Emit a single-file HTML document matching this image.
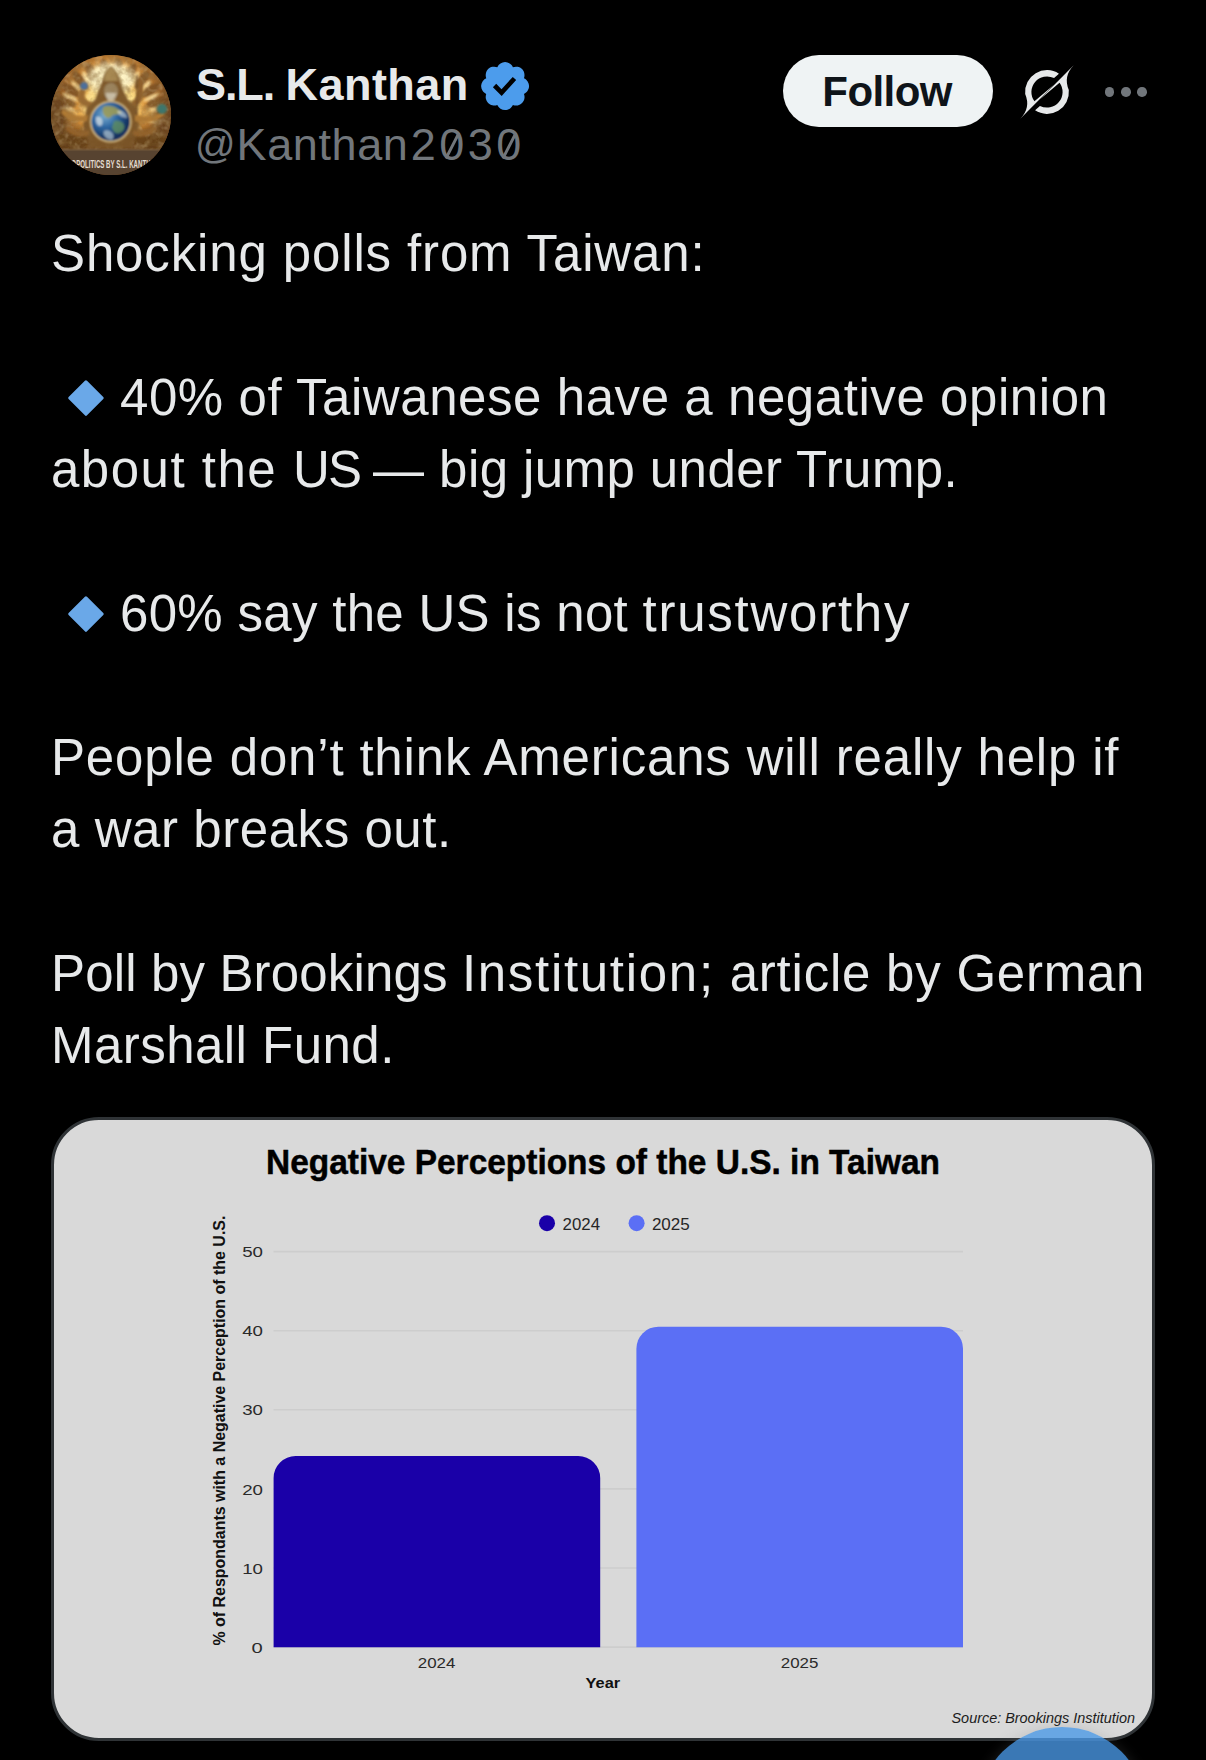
<!DOCTYPE html>
<html lang="en">
<head>
<meta charset="utf-8">
<title>Post</title>
<style>
html,body{margin:0;padding:0;background:#000;}
html{width:1206px;height:1760px;overflow:hidden;}
body{width:1206px;height:1760px;position:relative;overflow:hidden;font-family:"Liberation Sans",sans-serif;}
.abs{position:absolute;}
.t{position:absolute;margin-top:0.9px;left:51px;white-space:nowrap;color:#e7e9ea;font-size:51px;line-height:72px;height:72px;transform-origin:0 50%;}
#name{position:absolute;left:196px;top:58px;font-size:45px;line-height:54px;font-weight:bold;color:#e7e9ea;white-space:nowrap;transform-origin:0 50%;}
#handle{position:absolute;left:195px;top:117.6px;font-size:45px;line-height:54px;color:#71767b;white-space:nowrap;transform-origin:0 50%;}
#handle .at{font-size:40px;position:relative;top:-1.5px;margin-right:1px;}
#handle .k{letter-spacing:0.6px;}
#handle .d{letter-spacing:3.5px;margin-left:2.2px;}
#handle .z{position:relative;display:inline-block;}
#handle .z::after{content:"";position:absolute;left:11.5px;top:13px;width:2.6px;height:29px;background:#71767b;transform:rotate(27deg);border-radius:1px;}
#follow{position:absolute;left:782.7px;top:55.1px;width:210.3px;height:71.5px;border-radius:36px;background:#eff3f4;}
#follow span{position:absolute;left:39.6px;top:9.8px;font-size:42px;letter-spacing:-0.55px;line-height:54px;font-weight:bold;color:#0f1419;white-space:nowrap;transform-origin:0 50%;}
.dot{position:absolute;width:9.6px;height:9.6px;border-radius:50%;background:#71767b;top:87.2px;}
.dia{position:absolute;width:25.9px;height:25.9px;background:#6aa8e8;border-radius:1.5px;transform:rotate(45deg);}
#card{position:absolute;left:51px;top:1117px;width:1097.7px;height:618px;border:3px solid #2f3336;border-radius:48px;background:#d9d9d9;overflow:hidden;}
#fab{position:absolute;left:978px;top:1727px;width:168px;height:168px;border-radius:50%;background:rgba(73,152,230,0.79);box-shadow:0 0 14px rgba(120,120,120,0.25);}
</style>
</head>
<body>

<!-- header -->
<div id="avatar" class="abs" style="left:51px;top:55px;width:120px;height:120px;"><svg width="120" height="120" viewBox="0 0 120 120">
<defs>
<clipPath id="avc"><circle cx="60" cy="60" r="60"/></clipPath>
<radialGradient id="avbg" cx="60" cy="44" r="60" gradientUnits="userSpaceOnUse">
<stop offset="0" stop-color="#fff3c0"/><stop offset="0.3" stop-color="#f8cc66"/><stop offset="0.58" stop-color="#d8923c"/><stop offset="0.82" stop-color="#9a6229"/><stop offset="1" stop-color="#65401d"/>
</radialGradient>
<radialGradient id="avgl" cx="54" cy="60" r="24" gradientUnits="userSpaceOnUse">
<stop offset="0" stop-color="#7fb0d0"/><stop offset="0.5" stop-color="#2f68a2"/><stop offset="1" stop-color="#12315e"/>
</radialGradient>
<filter id="b1" x="-30%" y="-30%" width="160%" height="160%"><feGaussianBlur stdDeviation="1.2"/></filter>
<filter id="b2" x="-30%" y="-30%" width="160%" height="160%"><feGaussianBlur stdDeviation="0.8"/></filter>
<filter id="b3" x="-40%" y="-40%" width="180%" height="180%"><feGaussianBlur stdDeviation="3"/></filter>
<filter id="nz" x="0" y="0" width="100%" height="100%"><feTurbulence type="fractalNoise" baseFrequency="0.11" numOctaves="3" seed="7"/><feColorMatrix type="matrix" values="0 0 0 0 0.28  0 0 0 0 0.16  0 0 0 0 0.05  1.9 0 0 0 -0.75"/></filter>
<filter id="nz2" x="0" y="0" width="100%" height="100%"><feTurbulence type="fractalNoise" baseFrequency="0.16" numOctaves="2" seed="23"/><feColorMatrix type="matrix" values="0 0 0 0 1  0 0 0 0 0.9  0 0 0 0 0.6  0 1.8 0 0 -0.85"/></filter>
</defs>
<g clip-path="url(#avc)">
<rect width="120" height="120" fill="#5c3a1b"/>
<rect width="120" height="120" fill="url(#avbg)"/>
<g filter="url(#b1)">
<ellipse cx="12.0" cy="60.3" rx="4.4" ry="11" transform="rotate(-88 12.0 60.3)" fill="#7d5226" opacity="0.9"/>
<ellipse cx="15.7" cy="54.2" rx="1.7" ry="9" transform="rotate(-80 15.7 54.2)" fill="#ffe9a8" opacity="0.8"/>
<ellipse cx="14.3" cy="47.2" rx="4.4" ry="11" transform="rotate(-72 14.3 47.2)" fill="#7d5226" opacity="0.9"/>
<ellipse cx="19.6" cy="42.3" rx="1.7" ry="9" transform="rotate(-64 19.6 42.3)" fill="#ffe9a8" opacity="0.8"/>
<ellipse cx="20.2" cy="35.2" rx="4.4" ry="11" transform="rotate(-56 20.2 35.2)" fill="#7d5226" opacity="0.9"/>
<ellipse cx="26.6" cy="31.9" rx="1.7" ry="9" transform="rotate(-48 26.6 31.9)" fill="#ffe9a8" opacity="0.8"/>
<ellipse cx="29.1" cy="25.2" rx="4.4" ry="11" transform="rotate(-40 29.1 25.2)" fill="#7d5226" opacity="0.9"/>
<ellipse cx="36.2" cy="23.8" rx="1.7" ry="9" transform="rotate(-32 36.2 23.8)" fill="#ffe9a8" opacity="0.8"/>
<ellipse cx="40.5" cy="18.1" rx="4.4" ry="11" transform="rotate(-24 40.5 18.1)" fill="#7d5226" opacity="0.9"/>
<ellipse cx="47.6" cy="18.7" rx="1.7" ry="9" transform="rotate(-16 47.6 18.7)" fill="#ffe9a8" opacity="0.8"/>
<ellipse cx="53.3" cy="14.5" rx="4.4" ry="11" transform="rotate(-8 53.3 14.5)" fill="#7d5226" opacity="0.9"/>
<ellipse cx="60.0" cy="17.0" rx="1.7" ry="9" transform="rotate(0 60.0 17.0)" fill="#ffe9a8" opacity="0.8"/>
<ellipse cx="66.7" cy="14.5" rx="4.4" ry="11" transform="rotate(8 66.7 14.5)" fill="#7d5226" opacity="0.9"/>
<ellipse cx="72.4" cy="18.7" rx="1.7" ry="9" transform="rotate(16 72.4 18.7)" fill="#ffe9a8" opacity="0.8"/>
<ellipse cx="79.5" cy="18.1" rx="4.4" ry="11" transform="rotate(24 79.5 18.1)" fill="#7d5226" opacity="0.9"/>
<ellipse cx="83.8" cy="23.8" rx="1.7" ry="9" transform="rotate(32 83.8 23.8)" fill="#ffe9a8" opacity="0.8"/>
<ellipse cx="90.9" cy="25.2" rx="4.4" ry="11" transform="rotate(40 90.9 25.2)" fill="#7d5226" opacity="0.9"/>
<ellipse cx="93.4" cy="31.9" rx="1.7" ry="9" transform="rotate(48 93.4 31.9)" fill="#ffe9a8" opacity="0.8"/>
<ellipse cx="99.8" cy="35.2" rx="4.4" ry="11" transform="rotate(56 99.8 35.2)" fill="#7d5226" opacity="0.9"/>
<ellipse cx="100.4" cy="42.3" rx="1.7" ry="9" transform="rotate(64 100.4 42.3)" fill="#ffe9a8" opacity="0.8"/>
<ellipse cx="105.7" cy="47.2" rx="4.4" ry="11" transform="rotate(72 105.7 47.2)" fill="#7d5226" opacity="0.9"/>
<ellipse cx="104.3" cy="54.2" rx="1.7" ry="9" transform="rotate(80 104.3 54.2)" fill="#ffe9a8" opacity="0.8"/>
<ellipse cx="108.0" cy="60.3" rx="4.4" ry="11" transform="rotate(88 108.0 60.3)" fill="#7d5226" opacity="0.9"/>
<ellipse cx="104.8" cy="66.7" rx="1.7" ry="9" transform="rotate(96 104.8 66.7)" fill="#ffe9a8" opacity="0.8"/>
</g>
<g filter="url(#b3)">
<ellipse cx="60" cy="24" rx="24" ry="16" fill="#fff6c8" opacity="0.95"/>
<ellipse cx="41" cy="50" rx="8" ry="13" fill="#ffe594" opacity="0.9"/>
<ellipse cx="80" cy="50" rx="8" ry="13" fill="#ffe594" opacity="0.9"/>
<ellipse cx="26" cy="60" rx="9" ry="5" fill="#f7c262" opacity="0.7"/>
<ellipse cx="95" cy="60" rx="9" ry="5" fill="#f7c262" opacity="0.7"/>
<ellipse cx="7" cy="66" rx="9" ry="26" fill="#68421c" opacity="0.9"/>
<ellipse cx="114" cy="68" rx="9" ry="24" fill="#6b441d" opacity="0.9"/>
<ellipse cx="28" cy="86" rx="22" ry="10" fill="#65401a" opacity="0.9"/>
<ellipse cx="94" cy="86" rx="22" ry="10" fill="#65401a" opacity="0.9"/>
<ellipse cx="60" cy="92" rx="26" ry="6" fill="#6a4520" opacity="0.9"/>
</g>
<rect width="120" height="96" filter="url(#nz)" opacity="0.55"/>
<rect width="120" height="96" filter="url(#nz2)" opacity="0.35"/>
<g filter="url(#b1)">
<path d="M60 11 Q67 16 69 27 L73 37 L77 45 L85 52 L88 70 L82 93 L38 93 L32 70 L36 52 L44 45 L47 37 L51 27 Q53 16 60 11 Z" fill="#7a5528" opacity="0.97"/>
<path d="M37 52 C26 50 24 42 30 33 L35 36 C32 42 34 46 42 47 Z" fill="#9a6a30"/>
<path d="M84 52 C92 48 94 40 91 24 L87 25 C88 38 86 44 80 47 Z" fill="#8e5f2a"/>
<rect x="85.2" y="20" width="1.6" height="42" fill="#6e4a22"/>
<path d="M36 66 C24 68 16 64 10 58 L12 54 C20 60 28 62 37 60 Z" fill="#b07a34"/>
<path d="M84 66 C96 70 106 66 114 60 L112 56 C104 62 94 62 84 60 Z" fill="#b07a34"/>
<path d="M38 80 C28 84 20 80 14 74 L17 71 C24 76 30 78 38 75 Z" fill="#93622a"/>
<path d="M82 80 C92 84 100 80 106 74 L103 71 C96 76 90 78 82 75 Z" fill="#93622a"/>
<ellipse cx="60" cy="36" rx="7" ry="8" fill="#9c8560"/>
<path d="M54 38 Q60 58 66 38 Z" fill="#cfc6b0" opacity="0.85"/>
<path d="M60 12 Q66 17 67 26 L53 26 Q54 17 60 12 Z" fill="#a88a52"/>
</g>
<rect width="120" height="96" filter="url(#nz)" opacity="0.3"/>
<g filter="url(#b2)">
<circle cx="33" cy="31" r="3.8" fill="#4e6f9c"/>
<circle cx="111" cy="54" r="5" fill="#3d766c"/>
<circle cx="59.7" cy="66.6" r="21" fill="#d9bf86"/>
<circle cx="59.7" cy="66.6" r="19.4" fill="url(#avgl)"/>
<path d="M52 52 C58 49 67 52 71 58 C66 61 63 58 60 62 C56 65 50 60 52 52 Z" fill="#9a9a58" opacity="0.9"/>
<path d="M63 66 C68 64 75 68 73 74 C69 81 62 79 61 72 Z" fill="#5f8f62" opacity="0.8"/>
<path d="M45 62 C49 60 53 64 51 70 C47 73 44 68 45 62 Z" fill="#dfe7ea" opacity="0.7"/>
<path d="M53 76 C58 73 66 80 61 85 C56 85 51 80 53 76 Z" fill="#cfdde2" opacity="0.6"/>
<path d="M66 56 C70 54 76 58 76 63 C72 62 68 62 66 56 Z" fill="#e6ecee" opacity="0.55"/>
</g>
<rect x="0" y="94.6" width="120" height="26" fill="#574330"/>
<rect x="0" y="93.4" width="120" height="2.4" fill="#7a5c3c" opacity="0.55"/>
<text x="11.5" y="113" font-family="Liberation Sans, sans-serif" font-weight="bold" font-size="11.5" fill="#e4ded2" textLength="97" lengthAdjust="spacingAndGlyphs">GEOPOLITICS BY S.L. KANTHAN</text>
</g>
</svg></div>
<div id="name"><span style="letter-spacing:-1.1px">S.L. </span><span style="letter-spacing:0.45px">Kanthan</span></div>
<div id="badge" class="abs" style="left:476.9px;top:57.9px;width:56.2px;height:56.2px;"><svg width="56.2" height="56.2" viewBox="0 0 22 22"><path fill="#4c9cec" d="M20.396 11c-.018-.646-.215-1.275-.57-1.816-.354-.54-.852-.972-1.438-1.246.223-.607.27-1.264.14-1.897-.131-.634-.437-1.218-.882-1.687-.47-.445-1.053-.75-1.687-.882-.633-.13-1.29-.083-1.897.14-.273-.587-.704-1.086-1.245-1.44S11.647 1.62 11 1.604c-.646.017-1.273.213-1.813.568s-.969.854-1.24 1.44c-.608-.223-1.267-.272-1.902-.14-.635.13-1.22.436-1.69.882-.445.47-.749 1.055-.878 1.688-.13.633-.08 1.29.144 1.896-.587.274-1.087.705-1.443 1.245-.356.54-.555 1.17-.574 1.817.02.647.218 1.276.574 1.817.356.54.856.972 1.443 1.245-.224.606-.274 1.263-.144 1.896.13.634.433 1.218.877 1.688.47.443 1.054.747 1.687.878.633.132 1.29.084 1.897-.136.274.586.705 1.084 1.246 1.439.54.354 1.17.551 1.816.569.647-.016 1.276-.213 1.817-.567s.972-.854 1.245-1.44c.604.239 1.266.296 1.903.164.636-.132 1.22-.447 1.68-.907.46-.46.776-1.044.908-1.681s.075-1.299-.165-1.903c.586-.274 1.084-.705 1.439-1.246.354-.54.551-1.17.569-1.816zM9.662 14.85l-3.429-3.428 1.293-1.302 2.072 2.072 4.4-4.794 1.347 1.246z"/></svg></div>
<div id="handle"><span class="at">@</span><span class="k">Kanthan</span><span class="d">2<span class="z">0</span>3<span class="z">0</span></span></div>
<div id="follow"><span>Follow</span></div>
<div id="grok" class="abs" style="left:1007.1px;top:52.2px;width:80px;height:80px;"><svg width="80" height="80" viewBox="-40 -40 80 80">
<path d="M26.7,-26.7 L-7.3,7.5 L12.54,-9.28 A15.6,15.6 0 0 1 -7.08,13.9 L-11.93,18.37 A21.9,21.9 0 0 0 21.82,-1.91 Q16,-15.6 26.7,-26.7 Z" fill="#e7e9ea"/>
<path d="M26.7,-26.7 L-7.3,7.5 L12.54,-9.28 A15.6,15.6 0 0 1 -7.08,13.9 L-11.93,18.37 A21.9,21.9 0 0 0 21.82,-1.91 Q16,-15.6 26.7,-26.7 Z" fill="#e7e9ea" transform="rotate(180)"/>
</svg></div>
<div class="dot" style="left:1104.7px"></div>
<div class="dot" style="left:1121px"></div>
<div class="dot" style="left:1137.4px"></div>

<!-- body text -->
<div class="t" id="l1" style="top:217px;letter-spacing:0.865px">Shocking polls from Taiwan:</div>
<div class="dia" style="left:72.6px;top:385.4px"></div>
<div class="t" id="l3" style="top:361px;letter-spacing:0.564px;left:120px">40% of Taiwanese have a negative opinion</div>
<div class="t" id="l4" style="top:433px;letter-spacing:0.543px"><span style="letter-spacing:1.5px">about the </span><span style="letter-spacing:-1.6px">US </span><span style="letter-spacing:0.42px">— big jump under Trump.</span></div>
<div class="dia" style="left:72.6px;top:601.4px"></div>
<div class="t" id="l6" style="top:577px;letter-spacing:0.3px;left:120px">60% say the US is not <span style="letter-spacing:1.75px">trustworthy</span></div>
<div class="t" id="l8" style="top:721px;letter-spacing:0.819px">People don’t think Americans will really help if</div>
<div class="t" id="l9" style="top:793px;letter-spacing:0.562px">a war breaks out.</div>
<div class="t" id="l11" style="top:937px;letter-spacing:0.766px"><span style="letter-spacing:0.15px">Poll by Brookings </span><span style="letter-spacing:1.7px">Institution;</span> article by German</div>
<div class="t" id="l12" style="top:1009px;letter-spacing:0.462px">Marshall Fund.</div>

<!-- chart card -->
<div id="card"><svg class="abs" style="left:-2px;top:-2px" width="1102" height="623" viewBox="52 1118 1102 623" font-family="Liberation Sans, sans-serif">
<g stroke="#cdcdcd" stroke-width="1.6">
<line x1="273.5" y1="1251.6" x2="963" y2="1251.6"/>
<line x1="273.5" y1="1330.7" x2="963" y2="1330.7"/>
<line x1="273.5" y1="1409.8" x2="963" y2="1409.8"/>
<line x1="273.5" y1="1488.9" x2="963" y2="1488.9"/>
<line x1="273.5" y1="1568" x2="963" y2="1568"/>
<line x1="273.5" y1="1647.1" x2="963" y2="1647.1"/>
</g>
<text x="266" y="1174.3" font-size="35" font-weight="bold" fill="#000" stroke="#000" stroke-width="0.5" textLength="674" lengthAdjust="spacingAndGlyphs">Negative Perceptions of the U.S. in Taiwan</text>
<circle cx="547" cy="1223.2" r="8" fill="#1a00a8"/>
<text x="562.6" y="1230" font-size="16" fill="#262626" textLength="37.4" lengthAdjust="spacingAndGlyphs">2024</text>
<circle cx="636.6" cy="1223.2" r="8" fill="#5b6ff5"/>
<text x="651.9" y="1230" font-size="16" fill="#262626" textLength="37.9" lengthAdjust="spacingAndGlyphs">2025</text>
<g font-size="15" fill="#2a2a2a">
<text x="242.2" y="1257.2" textLength="20.8" lengthAdjust="spacingAndGlyphs">50</text>
<text x="242.2" y="1336.3" textLength="20.8" lengthAdjust="spacingAndGlyphs">40</text>
<text x="242.2" y="1415.4" textLength="20.8" lengthAdjust="spacingAndGlyphs">30</text>
<text x="242.2" y="1494.5" textLength="20.8" lengthAdjust="spacingAndGlyphs">20</text>
<text x="242.2" y="1573.6" textLength="20.8" lengthAdjust="spacingAndGlyphs">10</text>
<text x="251.6" y="1652.7" textLength="11.2" lengthAdjust="spacingAndGlyphs">0</text>
</g>
<text transform="translate(225.3,1645.6) rotate(-90)" font-size="16.4" font-weight="bold" fill="#111" textLength="430" lengthAdjust="spacingAndGlyphs">% of Respondants with a Negative Perception of the U.S.</text>
<path d="M273.6,1647.2 V1478 a22,22 0 0 1 22,-22 H578.2 a22,22 0 0 1 22,22 V1647.2 Z" fill="#1a00a8"/>
<path d="M636.4,1647.2 V1348.7 a22,22 0 0 1 22,-22 H941 a22,22 0 0 1 22,22 V1647.2 Z" fill="#5b6ff5"/>
<g font-size="15" fill="#2a2a2a">
<text x="417.8" y="1667.5" textLength="37.6" lengthAdjust="spacingAndGlyphs">2024</text>
<text x="780.8" y="1667.5" textLength="37.6" lengthAdjust="spacingAndGlyphs">2025</text>
</g>
<text x="585.6" y="1688" font-size="15.5" font-weight="bold" fill="#111" textLength="34.6" lengthAdjust="spacingAndGlyphs">Year</text>
<text x="951.5" y="1723.4" font-size="14.6" font-style="italic" fill="#1c1c1c" textLength="183.5" lengthAdjust="spacingAndGlyphs">Source: Brookings Institution</text>
</svg></div>

<div class="abs" style="left:0;top:0;width:1206px;height:1760px;overflow:hidden;"><div id="fab"></div></div>
</body>
</html>
